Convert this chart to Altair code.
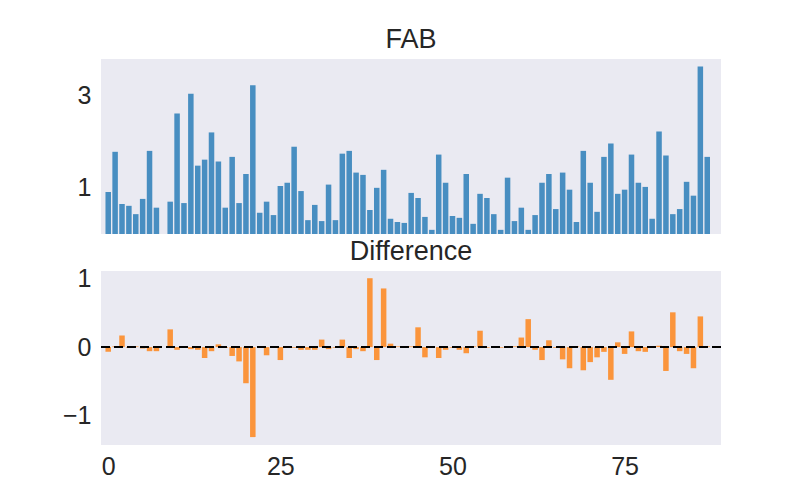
import altair as alt
import pandas as pd

fab = [0.91, 1.78, 0.65, 0.61, 0.43, 0.76, 1.80, 0.57, 0.00, 0.70,
       2.61, 0.67, 3.04, 1.48, 1.61, 2.20, 1.57, 0.57, 1.67, 0.67,
       1.30, 3.22, 0.46, 0.70, 0.41, 1.04, 1.11, 1.89, 0.93, 0.30,
       0.63, 0.28, 1.07, 0.30, 1.74, 1.80, 1.33, 1.28, 0.52, 1.00,
       1.39, 0.33, 0.26, 0.24, 0.89, 0.78, 0.37, 0.09, 1.72, 1.11,
       0.39, 0.35, 1.30, 0.22, 0.87, 0.78, 0.43, 0.09, 1.22, 0.28,
       0.57, 0.09, 0.41, 1.11, 1.30, 0.54, 1.33, 0.96, 0.26, 1.80,
       1.11, 0.48, 1.67, 1.96, 0.87, 0.96, 1.72, 1.11, 1.02, 0.33,
       2.22, 1.70, 0.43, 0.54, 1.13, 0.83, 3.63, 1.67]

diff = [-0.07, 0.01, 0.17, -0.01, 0.01, -0.02, -0.06, -0.06, 0.00, 0.26,
        -0.04, 0.01, -0.03, -0.04, -0.16, -0.06, 0.04, -0.01, -0.13, -0.21,
        -0.53, -1.32, 0.01, -0.12, -0.01, -0.19, 0.01, -0.01, -0.04, -0.04,
        -0.04, 0.11, -0.03, -0.01, 0.11, -0.16, -0.03, -0.06, 1.01, -0.19,
        0.86, 0.05, 0.01, -0.01, 0.01, 0.29, -0.15, 0.01, -0.16, -0.04,
        -0.01, -0.04, -0.09, 0.01, 0.24, -0.01, 0.01, -0.01, 0.01, 0.01,
        0.14, 0.41, -0.04, -0.19, 0.10, -0.01, -0.18, -0.31, 0.01, -0.34,
        -0.22, -0.15, -0.07, -0.48, 0.07, -0.10, 0.23, -0.06, -0.07, 0.01,
        0.02, -0.35, 0.51, -0.06, -0.10, -0.31, 0.45, 0.01]

idx = list(range(len(fab)))
df = pd.DataFrame({"i": idx, "fab": fab, "diff": diff})

FONT = "Liberation Sans"
TXT = "#262626"
BG = "#EAEAF2"
xdom = [-1.05, 89.0]
TICK = 25
TITLE = 27

base = alt.Chart(df).transform_calculate(
    x0="datum.i - 0.4", x1="datum.i + 0.4"
)

top_bars = base.mark_bar(color="#1f77b4", opacity=0.8).encode(
    x=alt.X("x0:Q", scale=alt.Scale(domain=xdom, nice=False, zero=False),
            axis=None),
    x2="x1:Q",
    y=alt.Y("fab:Q", scale=alt.Scale(domain=[0, 3.79], nice=False),
            axis=alt.Axis(values=[1, 3], format=".0f", title=None, ticks=False,
                          domain=False, grid=False, labelFont=FONT,
                          labelFontSize=TICK, labelColor=TXT, labelPadding=10,
                          minExtent=40, maxExtent=40)),
    y2=alt.datum(0),
)
top = top_bars.properties(
    width=620, height=175,
    title=alt.TitleParams("FAB", font=FONT, fontSize=TITLE, fontWeight="normal",
                          color=TXT, offset=5),
)

bot_bars = base.mark_bar(color="#ff7f0e", opacity=0.8).encode(
    x=alt.X("x0:Q", scale=alt.Scale(domain=xdom, nice=False, zero=False),
            axis=alt.Axis(values=[0, 25, 50, 75], format=".0f", title=None,
                          ticks=False, domain=False, grid=False, labelFont=FONT,
                          labelFontSize=TICK, labelColor=TXT, labelPadding=9)),
    x2="x1:Q",
    y=alt.Y("diff:Q", scale=alt.Scale(domain=[-1.436, 1.116], nice=False),
            axis=alt.Axis(values=[-1, 0, 1], format=".0f", title=None,
                          ticks=False, domain=False, grid=False, labelFont=FONT,
                          labelFontSize=TICK, labelColor=TXT, labelPadding=10,
                          minExtent=40, maxExtent=40)),
    y2=alt.datum(0),
)
zero_line = alt.Chart(pd.DataFrame({"z": [0.0]})).mark_rule(
    color="black", strokeWidth=2, strokeDash=[9, 4]
).encode(y="z:Q")

bottom = alt.layer(bot_bars, zero_line).properties(
    width=620, height=174,
    title=alt.TitleParams("Difference", font=FONT, fontSize=TITLE,
                          fontWeight="normal", color=TXT, offset=1),
)

chart = alt.vconcat(top, bottom, spacing=3).properties(
    padding={"left": 53, "top": 18, "right": 10, "bottom": 10},
    background="white",
).configure_view(
    fill=BG, stroke=None
)

chart.save("out.html", embed_options={"renderer": "svg", "actions": False})
